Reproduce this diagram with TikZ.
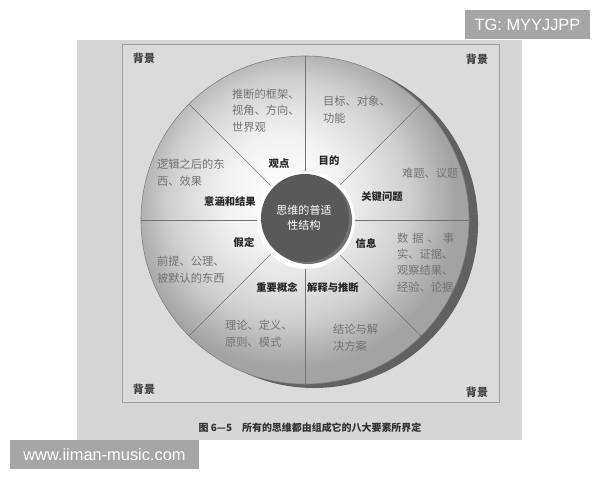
\documentclass[tikz,border=0pt]{standalone}
\usepackage{fontspec}
\newfontfamily\cjk{Noto Sans CJK SC}
\newfontfamily\wmfont{Liberation Sans}
\newlength\unitpx
\setlength\unitpx{0.03cm}
\pgfdeclareradialshading{wheelshade}{\pgfpoint{-4bp}{5bp}}{color(0bp)=(white); color(9bp)=(black!5); color(18bp)=(black!18); color(25bp)=(black!36); color(50bp)=(black!36)}

\begin{document}
\begin{tikzpicture}[x=0.03cm, y=-0.03cm,
    corner/.style={font=\cjk\bfseries\fontsize{9.4}{11}\selectfont, text=black!75},
    part/.style={font=\cjk\bfseries\fontsize{8.8}{11}\selectfont, text=black!85, inner sep=0pt},
    desc/.style={font=\cjk\fontsize{9.6}{13.7}\selectfont, text=black!55, align=left, anchor=base west, inner sep=0pt},
    spoke/.style={draw=black!55, line width=0.5pt},
    stamp/.style={fill=black!35, text=white, font=\wmfont\fontsize{14}{16}\selectfont, inner sep=0pt, minimum height=0.87cm}]

% page and panel
\useasboundingbox (0,0) rectangle (600,480);
\fill[white] (0,0) rectangle (600,480);
\fill[black!16] (77,40) rectangle (522,440);
\draw[black!38, fill=black!14] (122,44) rectangle (499,402);

% wheel
\coordinate (o) at (305,220);
\fill[black!62] (314,224) circle[radius=4.92cm];
\shade[shading=wheelshade] (o) circle[radius=4.92cm];
\draw[black!50, line width=0.5pt] (o) circle[radius=4.92cm];
\foreach \a in {0,45,...,315}
  \draw[spoke] (o) -- ++(\a:4.92cm);

% hub
\fill[white] (306,220) circle[radius=1.47cm];
\fill[black!55] (308,220) circle[radius=1.32cm];
\fill[black!65] (305,218) circle[radius=1.32cm];
\node[font=\cjk\fontsize{9.4}{12.8}\selectfont, text=white, align=center] (hub) at (304,218) {思维的普适\\性结构};

% corners
\node[corner] (bg1) at (144,58) {背景};
\node[corner] (bg2) at (477,59) {背景};
\node[corner] (bg3) at (144,389) {背景};
\node[corner] (bg4) at (477,392) {背景};

% eight elements
\node[part] (guandian) at (279,164) {观点};
\node[part] (mudi) at (329,161) {目的};
\node[part] (wenti) at (382,197) {关键问题};
\node[part] (jieguo) at (230,202) {意涵和结果};
\node[part] (xinxi) at (366,244) {信息};
\node[part] (jiading) at (244,243) {假定};
\node[part] (gainian) at (277,288) {重要概念};
\node[part] (tuiduan) at (333,288) {解释与推断};

% what each one holds (anchored on the last line)
\node[desc] (d1) at (232,131) {推断的框架、\\视角、方向、\\世界观};
\node[desc] (d2) at (323,122) {目标、对象、\\功能};
\node[desc] (d3) at (402,177) {难题、议题};
\node[desc] (d4) at (157,185) {逻辑之后的东\\西、效果};
\node[desc] (d5) at (397,291) {\makebox[57\unitpx][s]{数\hfill 据\hfill 、\hfill 事}\\实、证据、\\观察结果、\\经验、论据};
\node[desc] (d6) at (157,282) {前提、公理、\\被默认的东西};
\node[desc] (d7) at (225,346) {理论、定义、\\原则、模式};
\node[desc] (d8) at (333,350) {结论与解\\决方案};

% caption
\node[font=\cjk\bfseries\fontsize{8.5}{10}\selectfont, text=black!80] (caption) at (310,428) {图 6—5\quad 所有的思维都由组成它的八大要素所界定};

% stamps
\node[stamp, minimum width=3.75cm] (tg) at (527.5,24.5) {TG: MYYJJPP};
\node[stamp, minimum width=5.67cm] (url) at (104.5,454.5) {www.iiman-music.com};
\end{tikzpicture}
\end{document}
